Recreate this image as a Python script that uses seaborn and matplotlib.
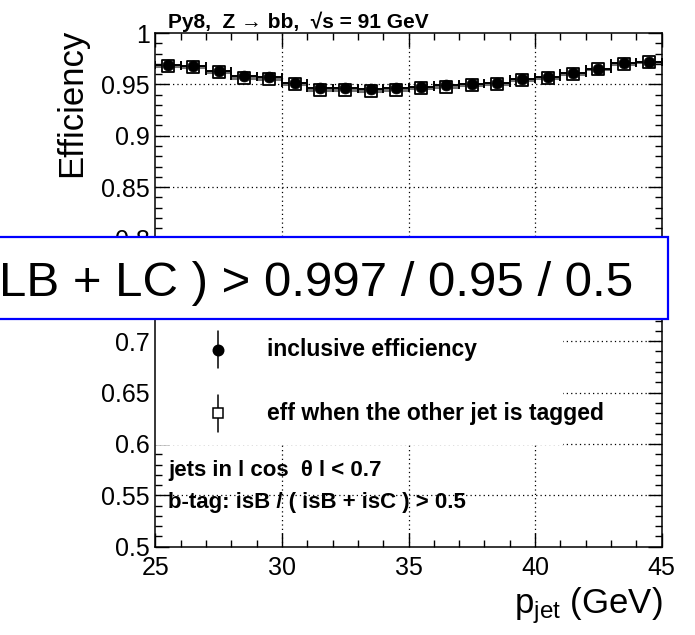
import numpy as np
import pandas as pd
import matplotlib
matplotlib.use("Agg")
import matplotlib.pyplot as plt
import seaborn as sns
from matplotlib.patches import Rectangle

# ---- data ----
bin_lo = list(range(25, 45))
bin_centers = [b + 0.5 for b in bin_lo]
eff_incl = [0.969, 0.9675, 0.963, 0.958, 0.957, 0.9516, 0.9467, 0.946, 0.9454, 0.946,
            0.9477, 0.949, 0.9506, 0.9516, 0.9548, 0.9568, 0.9607, 0.9649, 0.9704, 0.972]
eff_tagged = [0.968, 0.9665, 0.962, 0.9565, 0.9555, 0.950, 0.945, 0.9445, 0.9440, 0.9445,
              0.9462, 0.9475, 0.9492, 0.9505, 0.9540, 0.9562, 0.9605, 0.9647, 0.9703, 0.9718]
err_incl = [0.0015] * 20
err_tagged = [0.0018] * 20
x_ticks = [25, 30, 35, 40, 45]
y_ticks = [0.5, 0.55, 0.6, 0.65, 0.7, 0.75, 0.8, 0.85, 0.9, 0.95, 1.0]
y_tick_labels = ["0.5", "0.55", "0.6", "0.65", "0.7", "0.75", "0.8", "0.85", "0.9", "0.95", "1"]

df = pd.DataFrame({"pt": bin_centers, "incl": eff_incl, "tag": eff_tagged})

sns.set_theme(style="ticks")
plt.rcParams["font.family"] = ["Liberation Sans", "DejaVu Sans"]
plt.rcParams["text.color"] = "black"
plt.rcParams["mathtext.fontset"] = "custom"
plt.rcParams["mathtext.rm"] = "Liberation Sans"
plt.rcParams["mathtext.it"] = "Liberation Sans:italic"
plt.rcParams["mathtext.bf"] = "Liberation Sans:bold"

W, H = 695, 635
fig = plt.figure(figsize=(W / 100, H / 100), dpi=100)
L, R, T, B = 155.3, 661.7, 33.0, 546.7
ax = fig.add_axes([L / W, 1 - B / H, (R - L) / W, (B - T) / H])

ax.set_xlim(25, 45)
ax.set_ylim(0.5, 1.0)

# grid (dotted) at major ticks
for xv in x_ticks[1:-1]:
    ax.axvline(xv, color="black", lw=0.9, ls=(0, (1, 2.5)), zorder=0.6)
for yv in y_ticks[1:-1]:
    ax.axhline(yv, color="black", lw=0.9, ls=(0, (1, 2.5)), zorder=0.6)

# legend white box hiding the grid
ax.add_patch(Rectangle((0, 0.198), 0.805, 0.30, transform=ax.transAxes,
                       facecolor="white", edgecolor="none", zorder=0.8))

# error bars
ax.errorbar(df["pt"], df["tag"], xerr=0.5, yerr=err_tagged, fmt="none",
            ecolor="0.45", elinewidth=2.2, capsize=0, zorder=2)
ax.errorbar(df["pt"], df["incl"], xerr=0.5, yerr=err_incl, fmt="none",
            ecolor="black", elinewidth=1.4, capsize=3.2, capthick=1.4, zorder=3)

sns.scatterplot(data=df, x="pt", y="tag", marker="s", s=64, facecolor="white",
                edgecolor="black", linewidth=1.3, ax=ax, zorder=4)
sns.scatterplot(data=df, x="pt", y="incl", marker="o", s=62, color="black",
                edgecolor="black", linewidth=0.5, ax=ax, zorder=5)

ax.set_xlabel("")
ax.set_ylabel("")
ax.set_xticks(x_ticks)
ax.set_xticklabels([str(v) for v in x_ticks])
ax.set_yticks(y_ticks)
ax.set_yticklabels(y_tick_labels)
ax.set_xticks(np.arange(25, 45.01, 1), minor=True)
ax.set_yticks(np.arange(0.5, 1.0001, 0.01), minor=True)
ax.tick_params(which="both", direction="in", top=True, right=True, color="black",
               labelsize=18, labelcolor="black")
ax.tick_params(which="major", length=10, width=1.0)
ax.tick_params(which="minor", length=5, width=1.0)
ax.tick_params(axis="x", which="major", pad=7)
ax.tick_params(axis="y", which="major", pad=4)
for sp in ax.spines.values():
    sp.set_color("black")
    sp.set_linewidth(1.1)

# legend entries
lx = (217.7 - L) / (R - L)
for yy, mk, fc in [(0.383, "o", "black"), (0.260, "s", "white")]:
    ax.plot([lx, lx], [yy - 0.036, yy + 0.036], color="black", lw=1.1,
            transform=ax.transAxes, zorder=6, clip_on=False)
    ax.plot([lx], [yy], marker=mk, ms=7.5, mfc=fc, mec="black",
            mew=1.1, transform=ax.transAxes, zorder=7, clip_on=False)
tx = (266.7 - L) / (R - L)
ax.text(tx, 0.383, "inclusive efficiency", transform=ax.transAxes, fontsize=16.5,
        fontweight="bold", va="center", ha="left", zorder=7, color="black")
ax.text(tx, 0.260, "eff when the other jet is tagged", transform=ax.transAxes,
        fontsize=16.5, fontweight="bold", va="center", ha="left", zorder=7, color="black")

ax.text(0.025, 0.149, "jets in l cos  θ l < 0.7", transform=ax.transAxes,
        fontsize=16, fontweight="bold", va="center", ha="left", zorder=7, color="black")
ax.text(0.025, 0.087, "b-tag: isB / ( isB + isC ) > 0.5", transform=ax.transAxes,
        fontsize=16, fontweight="bold", va="center", ha="left", zorder=7, color="black")

# title
fig.text(168 / W, 1 - 28 / H, "Py8,  Z → bb,  √s = 91 GeV", fontsize=15,
         fontweight="bold", ha="left", va="baseline", color="black")

# axis titles
fig.text(72 / W, 1 - 29 / H, "Efficiency", rotation=90, fontsize=25,
         ha="center", va="top", color="black")
fig.text(663 / W, 1 - 613 / H, r"p$_{\mathrm{jet}}$ (GeV)", fontsize=25,
         ha="right", va="baseline", color="black")

# overlay blue box
fig.patches.append(Rectangle((-0.02, 1 - 319 / H), 668 / W + 0.02, (319 - 237) / H,
                             transform=fig.transFigure, facecolor="white",
                             edgecolor="#0000ff", lw=1.6, zorder=10))
fig.text(633 / W, 1 - 296 / H, "LB + LC ) > 0.997 / 0.95 / 0.5", fontsize=35.5,
         ha="right", va="baseline", zorder=11, color="black")

fig.savefig("out.png", dpi=100)
